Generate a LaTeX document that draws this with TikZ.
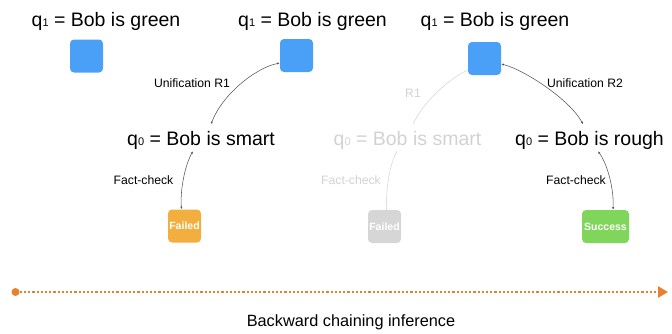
\documentclass[tikz,border=0pt]{standalone}
\usepackage{fontspec}
\setmainfont{Liberation Sans}
\usetikzlibrary{arrows.meta}

\definecolor{goalblue}{HTML}{4A9FF6}
\definecolor{failorange}{HTML}{F2AE3E}
\definecolor{okgreen}{HTML}{80D65A}
\definecolor{prunedgray}{HTML}{D6D6D6}
\definecolor{fadetext}{HTML}{D2D2D2}
\definecolor{linkgray}{HTML}{555555}
\definecolor{timeorange}{HTML}{E8812E}

\newcommand\qidx[1]{{\fontsize{11}{11}\selectfont\raisebox{-0.6pt}{#1}}}

\tikzset{
  goal/.style={rectangle, rounded corners=4pt, fill=goalblue,
    minimum width=33pt, minimum height=33pt, inner sep=0pt},
  outcome/.style={rectangle, rounded corners=4pt, minimum height=33pt,
    inner sep=0pt, text=white, font=\bfseries\fontsize{10.5}{12}\selectfont},
  query/.style={anchor=base, inner sep=0pt, font=\fontsize{19.5}{22}\selectfont},
  edgelabel/.style={anchor=base, inner sep=0pt, font=\fontsize{12.2}{14}\selectfont},
  tip/.tip={Latex[length=2.6pt,width=2.2pt]},
  link/.style={draw=linkgray, line width=0.55pt, tip-tip},
  prunedlink/.style={draw=prunedgray, line width=0.55pt},
}

\begin{document}
\begin{tikzpicture}[x=1pt,y=-1pt]
\useasboundingbox (0,0) rectangle (672,333);

% goal q1 at each step
\node[query] (t1) at (106,26) {q\qidx{1} = Bob is green};
\node[query] (t2) at (312.5,26) {q\qidx{1} = Bob is green};
\node[query] (t3) at (495,26) {q\qidx{1} = Bob is green};
\node[goal] (g1) at (86.5,56) {};
\node[goal] (g2) at (296.5,55.5) {};
\node[goal] (g3) at (484.5,58.5) {};

% sub-goals q0
\node[query] (s1) at (201,145) {q\qidx{0} = Bob is smart};
\node[query, text=fadetext] (s2) at (407.5,145) {q\qidx{0} = Bob is smart};
\node[query] (s3) at (589.5,145) {q\qidx{0} = Bob is rough};

% fact-check outcomes
\node[outcome, fill=failorange, minimum width=33pt] (f1) at (184.5,226) {Failed};
\node[outcome, fill=prunedgray, minimum width=33pt] (f2) at (384.5,226.5) {Failed};
\node[outcome, fill=okgreen, minimum width=47pt] (ok) at (605.5,226.5) {Success};

% unification links
\draw[link] ([yshift=-7.5pt]g2.west) .. controls (255,68) and (222,95)
  .. ([xshift=10pt,yshift=6.5pt]s1.north);
\draw[prunedlink] ([yshift=-11.5pt]g3.west) .. controls (450,78) and (423,102)
  .. ([xshift=5.5pt,yshift=6.5pt]s2.north);
\draw[link] ([yshift=-5.5pt]g3.east) .. controls (525,70) and (570,100)
  .. ([xshift=-6.5pt,yshift=6.5pt]s3.north);

\node[edgelabel] (u1) at (192,87) {Unification R1};
\node[edgelabel, text=fadetext] (u2) at (413,97) {R1};
\node[edgelabel] (u3) at (585,87) {Unification R2};

% fact-check links
\draw[link] ([xshift=-8pt,yshift=-2pt]s1.south) .. controls (185,165) and (180,190)
  .. ([xshift=-3pt]f1.north);
\draw[prunedlink] ([xshift=-10.5pt,yshift=-2pt]s2.south) .. controls (389,165) and (386,190)
  .. ([xshift=2pt]f2.north);
\draw[link] ([xshift=8.5pt,yshift=-2pt]s3.south) .. controls (608,165) and (614,190)
  .. ([xshift=7.5pt]ok.north);

\node[edgelabel] (c1) at (143.5,184.3) {Fact-check};
\node[edgelabel, text=fadetext] (c2) at (351,184) {Fact-check};
\node[edgelabel] (c3) at (576,184) {Fact-check};

% inference direction
\node[circle, fill=timeorange, minimum size=8pt, inner sep=0pt] (tstart) at (15.5,292) {};
\coordinate (tend) at (668,292);
\draw[timeorange, line width=2.4pt, dash pattern=on 2.2pt off 2pt,
  -{Triangle[length=10pt,width=11pt]}] (tstart) -- (tend);
\node[anchor=base, inner sep=0pt, font=\fontsize{16.3}{18}\selectfont] (caption)
  at (351,326) {Backward chaining inference};
\end{tikzpicture}
\end{document}
